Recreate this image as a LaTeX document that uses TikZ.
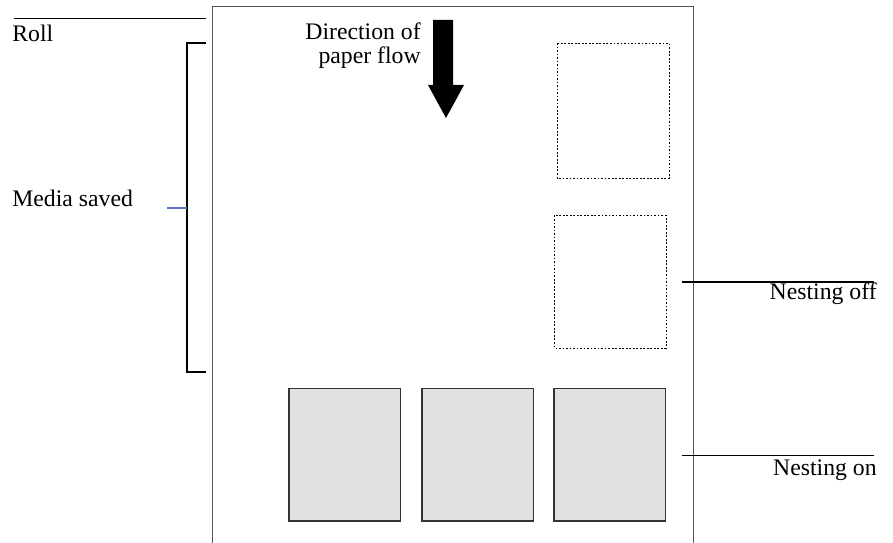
\documentclass[tikz,border=0pt]{standalone}
\usepackage{fontspec}
\setmainfont{Liberation Serif}
\newfontfamily\timesfont{Liberation Serif}
\usepackage{tikz}
\definecolor{papergray}{HTML}{555555}
\definecolor{sheetfill}{HTML}{E1E1E1}
\definecolor{ticksblue}{HTML}{5B73B8}
\tikzset{
  lbl/.style={inner sep=0pt, font=\timesfont\fontsize{13.5}{14}\selectfont},
  nestoff/.style={draw=black, line width=0.5pt, dash pattern=on 1pt off 1pt},
  neston/.style={draw=black!80, fill=sheetfill, line width=0.7pt}
}

\begin{document}
\begin{tikzpicture}[x=0.02cm, y=-0.02cm]
    \useasboundingbox (0,0) rectangle (893,543);

    % Paper roll (open at the bottom)
    \draw[papergray, line width=0.7pt] (212.5,543) -- (212.5,6.5) -- (693.5,6.5) -- (693.5,543);

    % Roll label and its leader
    \draw[line width=0.6pt] (14,18.5) -- (206,18.5);
    \node[lbl, anchor=base west] (roll) at (12,42) {Roll};

    % Media saved bracket
    \draw[line width=0.6pt] (206,43) -- (187,43) -- (187,372) -- (206,372);
    \draw[ticksblue, line width=0.6pt] (167,208) -- (187,208);
    \node[lbl, anchor=base west] (saved) at (12,207) {Media saved};

    % Direction of paper flow
    \node[lbl, anchor=north east, align=right] (flow) at (421,22) {Direction of\\paper flow};
    \fill[black] (433,20) -- (453,20) -- (453,85) -- (464,85) -- (446,118)
        -- (428,85) -- (433,85) -- cycle;

    % Nesting off: sheets one below another
    \draw[nestoff] (557,43) rectangle (669,178);
    \draw[nestoff] (554.5,215.5) rectangle (666,348);

    % Nesting on: sheets side by side
    \foreach \xa in {289,422,554}
        \draw[neston] (\xa,388.5) rectangle ++(111.5,132.5);

    % Leaders on the right
    \draw[line width=0.6pt] (682,282) -- (874,282);
    \node[lbl, anchor=base east] (off) at (877,300) {Nesting off};
    \draw[line width=0.6pt] (682,455.5) -- (874,455.5);
    \node[lbl, anchor=base east] (on) at (877,476) {Nesting on};
\end{tikzpicture}
\end{document}
